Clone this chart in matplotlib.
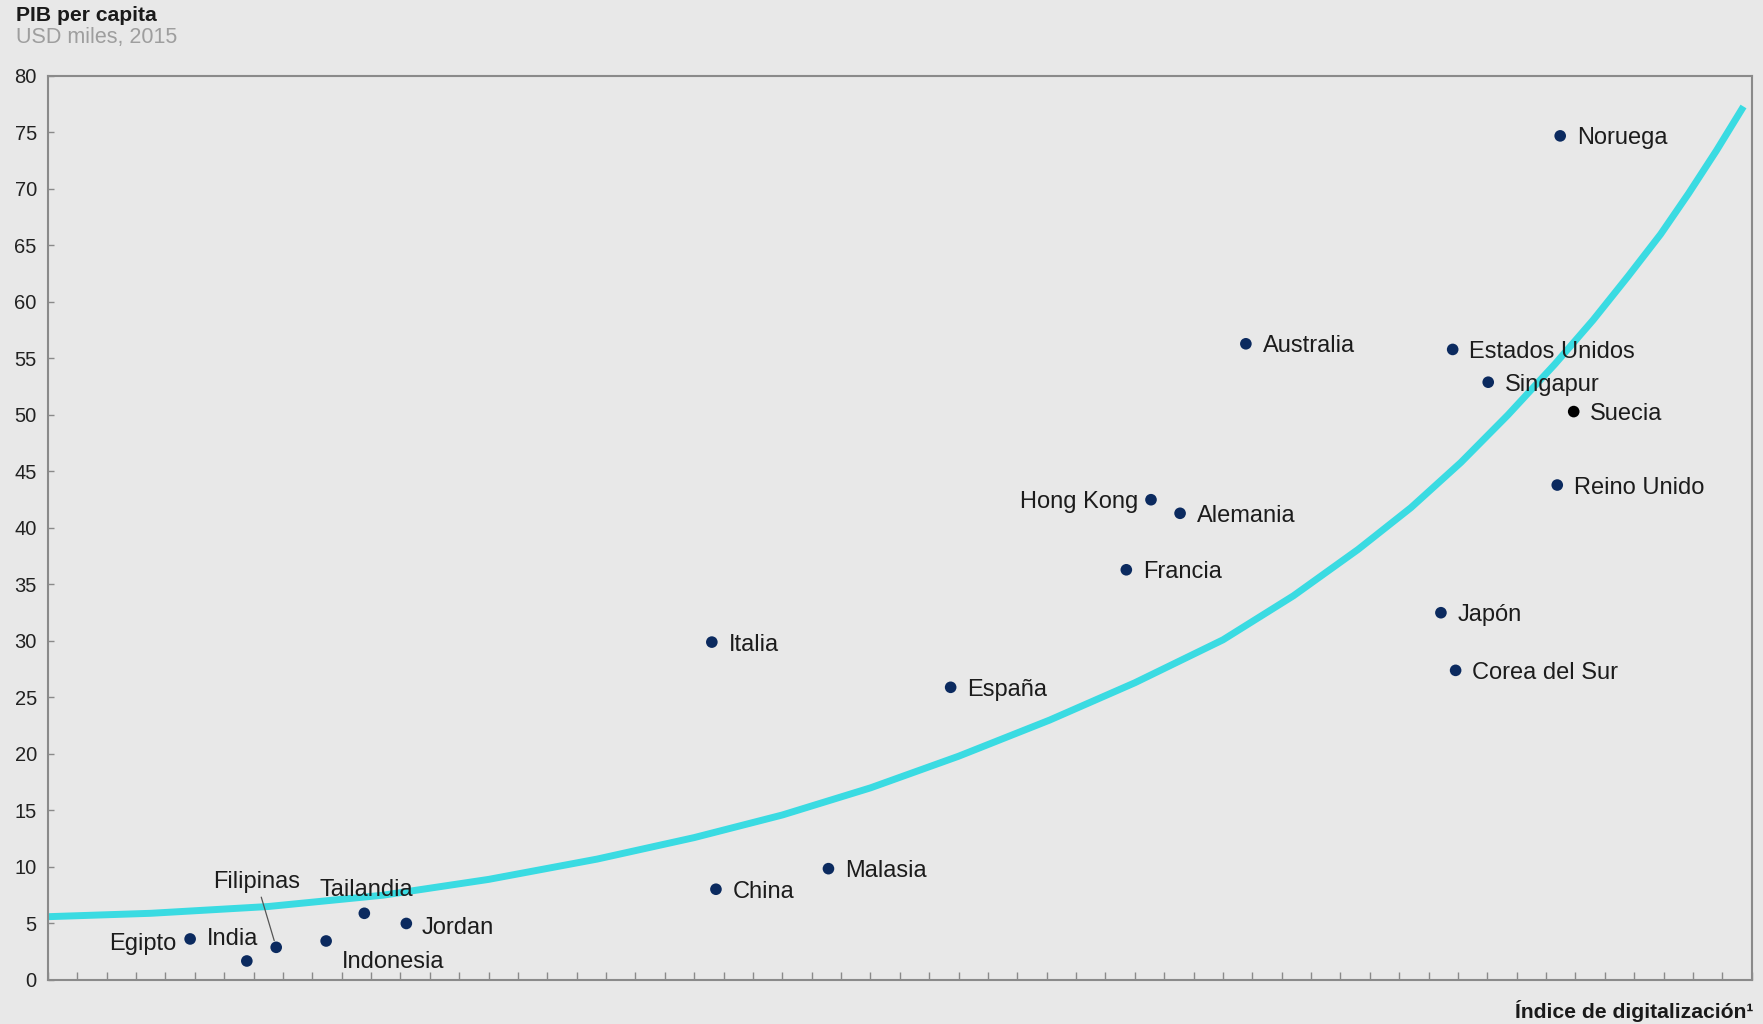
"""PIB per capita vs. índice de digitalización, scatter with trend curve."""
import matplotlib
matplotlib.use("Agg")
import matplotlib.pyplot as plt

plt.rcParams["font.family"] = ["Liberation Sans", "DejaVu Sans"]

BG = "#e8e8e8"
NAVY = "#0b2a5f"
CYAN = "#3adbe2"

# data (x = digitalisation index on a 0-58 tick scale)
countries = ["Noruega", "Australia", "Estados Unidos", "Singapur", "Suecia",
             "Reino Unido", "Hong Kong", "Alemania", "Francia", "Japón",
             "Corea del Sur", "Italia", "España", "Malasia", "China",
             "Tailandia", "Jordan", "Indonesia", "Filipinas", "Egipto", "India"]
digital = [51.48, 40.78, 47.82, 49.03, 51.94, 51.38, 37.55, 38.54, 36.71, 47.42,
           47.92, 22.6, 30.73, 26.57, 22.74, 10.77, 12.2, 9.47, 7.77, 4.84, 6.77]
gdp = [74.7, 56.3, 55.8, 52.9, 50.3, 43.8, 42.5, 41.3, 36.3, 32.5,
       27.4, 29.9, 25.9, 9.85, 8.03, 5.9, 5.0, 3.45, 2.89, 3.63, 1.68]

# trend curve, points
trend_x = [0.0, 3.5, 7.5, 11.4, 15.0, 18.7, 22.0, 25.0, 28.0, 31.0, 34.1,
           37.0, 40.0, 42.4, 44.6, 46.4, 48.1, 49.7, 51.3, 52.6, 53.8, 54.9,
           55.85, 56.8, 57.72]
trend_y = [5.6, 5.9, 6.5, 7.5, 8.9, 10.7, 12.6, 14.6, 17.0, 19.8, 23.0,
           26.3, 30.1, 34.0, 38.1, 41.8, 45.8, 50.0, 54.5, 58.4, 62.3, 66.0,
           69.6, 73.4, 77.3]

# label placement: (dx, dy) in points, ha
label_pos = {
    "Hong Kong": (-9, -1.5, "right"),
    "Egipto": (-10, -3.5, "right"),
    "India": (-10, 16, "center"),
    "Tailandia": (1.5, 17, "center"),
    "Filipinas": (-14, 47, "center"),
    "Indonesia": (11, -15, "left"),
    "Jordan": (11, -3, "left"),
}

fig = plt.figure(figsize=(17.63, 10.24), dpi=100, facecolor=BG)
ax = fig.add_axes([0.0272, 0.043, 0.9664, 0.8828], facecolor=BG)

ax.plot(trend_x, trend_y, color=CYAN, lw=5, solid_capstyle="butt",
        solid_joinstyle="round", zorder=2)

colors = ["#000000" if c == "Suecia" else NAVY for c in countries]
ax.scatter(digital, gdp, s=70, c=colors, zorder=3, linewidths=0)

for name, x, y in zip(countries, digital, gdp):
    dx, dy, ha = label_pos.get(name, (12, -1.8, "left"))
    kw = {}
    if name == "Filipinas":
        kw["arrowprops"] = dict(arrowstyle="-", color="#555555", lw=0.9,
                                shrinkA=1, shrinkB=5)
    ax.annotate(name, (x, y), xytext=(dx, dy), textcoords="offset points",
                ha=ha, va="center", fontsize=17, color="#1c1c1c",
                zorder=4, **kw)

ax.set_xlim(0, 58)
ax.set_ylim(0, 80)
ax.set_xticks(range(0, 59))
ax.set_xticklabels([])
ax.set_yticks(range(0, 81, 5))
ax.tick_params(axis="x", direction="in", length=6, width=1, color="#8a8a8a")
ax.tick_params(axis="y", direction="in", length=4, width=1, color="#8a8a8a",
               labelsize=14.5, labelcolor="#222222", pad=8)
for sp in ax.spines.values():
    sp.set_color("#8a8a8a")
    sp.set_linewidth(1.5)

fig.text(16 / 1763, 1 - 6 / 1024, "PIB per capita", fontsize=15.2,
         fontweight="bold", color="#1a1a1a", ha="left", va="top")
fig.text(16 / 1763, 1 - 27 / 1024, "USD miles, 2015", fontsize=15.5,
         color="#9e9e9e", ha="left", va="top")
fig.text(1753 / 1763, 1 - 1011 / 1024, "Índice de digitalización¹",
         fontsize=15.2, fontweight="bold", color="#1a1a1a",
         ha="right", va="center")

fig.savefig("out.png", dpi=100, facecolor=BG)
